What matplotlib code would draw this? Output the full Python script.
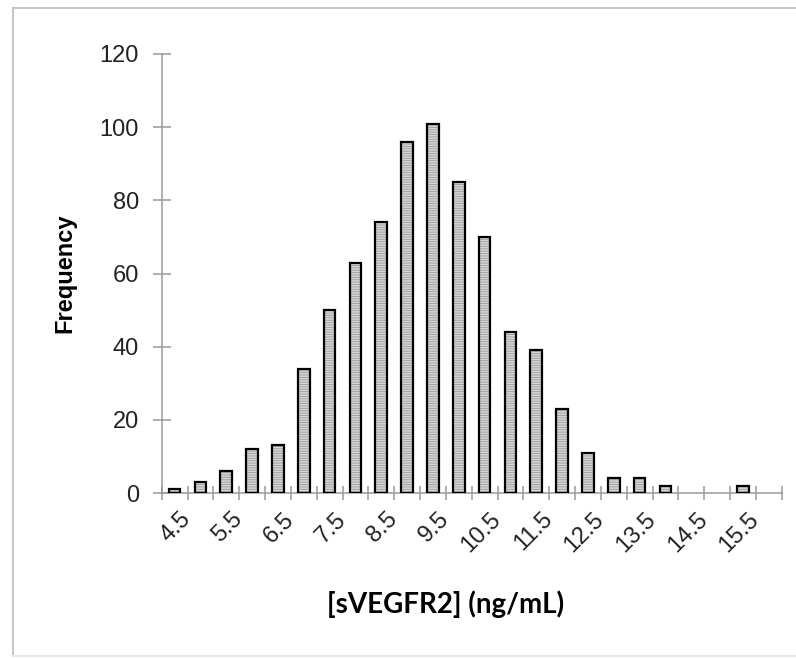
import numpy as np
import matplotlib.pyplot as plt
from matplotlib.lines import Line2D
from matplotlib.transforms import ScaledTranslation

# bin centres (ng/mL) and counts
bins = [4.5, 5.0, 5.5, 6.0, 6.5, 7.0, 7.5, 8.0, 8.5, 9.0, 9.5, 10.0,
        10.5, 11.0, 11.5, 12.0, 12.5, 13.0, 13.5, 14.0, 14.5, 15.0, 15.5, 16.0]
counts = [1, 3, 6, 12, 13, 34, 50, 63, 74, 96, 101, 85,
          70, 44, 39, 23, 11, 4, 4, 2, 0, 0, 2, 0]
yticks = [0, 20, 40, 60, 80, 100, 120]

plt.rcParams['font.family'] = ['Liberation Sans', 'DejaVu Sans']
plt.rcParams['hatch.linewidth'] = 0.6

fig = plt.figure(figsize=(7.96, 6.58), dpi=100)
ax = fig.add_axes([161.7 / 796, 1 - 493 / 658, 620 / 796, (493 - 54) / 658])

pos = np.arange(len(bins))
counts = np.array(counts)
nz = counts > 0  # empty bins get no bar at all
ax.bar(pos[nz], counts[nz], width=0.45, color='#d6d6d6', hatch='-------',
       edgecolor='#9a9a9a', linewidth=0, zorder=2)
ax.bar(pos[nz], counts[nz], width=0.45, fill=False, edgecolor='black',
       linewidth=1.6, zorder=3)

ax.set_xlim(-0.5, len(bins) - 0.5)
ax.set_ylim(0, 120)

for s in ['top', 'right']:
    ax.spines[s].set_visible(False)
for s in ['left', 'bottom']:
    ax.spines[s].set_color('#9a9a9a')
    ax.spines[s].set_linewidth(1.1)

ax.set_yticks(yticks)
ax.tick_params(axis='y', direction='inout', length=13, width=1.1,
               color='#9a9a9a', labelsize=17, labelcolor='#222222', pad=10)

# tick marks between categories, labels on every other category
ax.set_xticks(np.arange(len(bins) + 1) - 0.5)
ax.set_xticklabels([])
ax.tick_params(axis='x', which='major', direction='inout', length=9.5,
               width=1.1, color='#9a9a9a')
lab_pos = pos[::2]
ax.set_xticks(lab_pos, minor=True)
ax.set_xticklabels(['%.1f' % b for b in bins[::2]], minor=True,
                   rotation=45, ha='right', rotation_mode='anchor')
ax.tick_params(axis='x', which='minor', length=0, labelsize=17,
               labelcolor='#222222', pad=11)
shift = ScaledTranslation(0.05, 0, fig.dpi_scale_trans)
for lab in ax.get_xticklabels(minor=True):
    lab.set_transform(lab.get_transform() + shift)

fig.text(65 / 796, 1 - 273 / 658, 'Frequency', rotation=90, ha='center',
         va='center', fontsize=17, fontweight='bold')
fig.text(446 / 796, 1 - 604 / 658, '[sVEGFR2] (ng/mL)', ha='center',
         va='center', fontsize=20, fontweight='bold', family='Lato')

# light frame round the figure
fc = '#c8c8c8'
fig.add_artist(Line2D([13 / 796, 13 / 796], [1 - 8 / 658, 1 - 656 / 658],
                      transform=fig.transFigure, color=fc, lw=1.5))
fig.add_artist(Line2D([13 / 796, 1], [1 - 8 / 658, 1 - 8 / 658],
                      transform=fig.transFigure, color=fc, lw=1.5))
fig.add_artist(Line2D([13 / 796, 1], [1 - 656 / 658, 1 - 656 / 658],
                      transform=fig.transFigure, color='#e6e6e6', lw=1.5))

fig.savefig('out.png', dpi=100)
